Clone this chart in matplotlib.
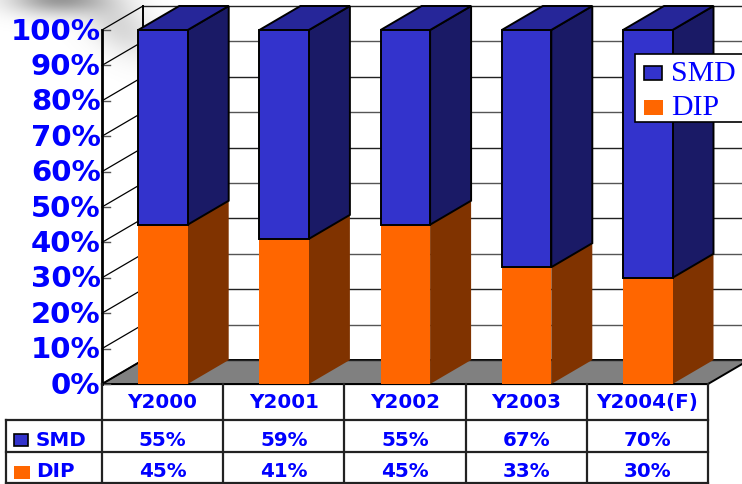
import numpy as np
import matplotlib
matplotlib.use("Agg")
import matplotlib.pyplot as plt
from matplotlib.patches import Polygon, Rectangle
from matplotlib.transforms import blended_transform_factory as blend

categories = ["Y2000", "Y2001", "Y2002", "Y2003", "Y2004(F)"]
smd = [55, 59, 55, 67, 70]
dip = [45, 41, 45, 33, 30]
yticks = list(range(0, 101, 10))
series_names = ["SMD", "DIP"]

W, H = 742, 484
BLUE, BLUE_S, BLUE_T = "#3333CC", "#1A1A66", "#262699"
ORG, ORG_S = "#FF6600", "#803300"
GRAY, TXT = "#808080", "#0000FF"
SANS, SERIF = "DejaVu Sans", "Liberation Serif"

fig = plt.figure(figsize=(W / 100, H / 100), dpi=100, facecolor="white")

# pixel-coordinate layer for the smudge, table frame and legend
px = fig.add_axes([0, 0, 1, 1], zorder=1)
px.set_xlim(0, W); px.set_ylim(H, 0); px.axis("off")

# soft grey smudge in the upper left corner
xx, yy = np.meshgrid(np.arange(W), np.arange(110))
blob = 0.8 * np.exp(-((xx - 58) / 48.0) ** 2 - ((yy + 2) / 16.0) ** 2)
streak = 0.30 * np.exp(-((xx - 105 - yy * 0.55) / 32.0) ** 2 - ((yy - 26) / 30.0) ** 2)
a = np.clip(blob + streak, 0, 1)
img = np.dstack([np.full_like(a, 0.5), np.full_like(a, 0.5), np.full_like(a, 0.5), a])
px.imshow(img, extent=(0, W, 110, 0), aspect="auto", zorder=0)
px.set_xlim(0, W); px.set_ylim(H, 0)

# chart axes: x = category slots, y = percent
ax = fig.add_axes([102 / W, (H - 384) / H, 606 / W, 354 / H], zorder=2)
ax.set_xlim(0, 5); ax.set_ylim(0, 100); ax.axis("off"); ax.patch.set_alpha(0)
DX, DY = 41 / 121.2, 24 / 3.54

def poly(pts, fc, ec="black", lw=1.4, z=2):
    p = Polygon(pts, closed=True, facecolor=fc, edgecolor=ec, linewidth=lw, zorder=z, clip_on=False, joinstyle="miter")
    ax.add_patch(p)

# floor
poly([(0, 0), (DX, DY), (5 + DX, DY), (5, 0)], GRAY, lw=1.4, z=1)

# grid: side wall + back wall
for t in yticks:
    c = "#222222" if t % 20 == 0 else "#555555"
    ax.plot([0, DX], [t, t + DY], color="black", lw=0.9, zorder=1.5, clip_on=False)
    ax.plot([DX, 5 + DX], [t + DY, t + DY], color=c, lw=1.0, zorder=1.2, clip_on=False)
    ax.plot([0, 0.065], [t, t], color="#555555", lw=1.0, zorder=1.6, clip_on=False)
    ax.text(-0.012, t - 0.45, f"{t}%", ha="right", va="center", family=SANS, fontweight="bold",
            fontsize=21, color=TXT, zorder=6, clip_on=False)
ax.plot([0, 0], [0, 100], color="black", lw=2, zorder=1.7, clip_on=False)
ax.plot([DX, DX], [DY, 100 + DY], color="black", lw=1.4, zorder=1.2, clip_on=False)

# stacked 3-D bars
BW = 49.5 / 121.2
for i, (d, s) in enumerate(zip(dip, smd)):
    x0 = i + 36.2 / 121.2
    x1 = x0 + BW
    top = d + s
    poly([(x1, 0), (x1 + DX, DY), (x1 + DX, d + DY), (x1, d)], ORG_S, ec="none", lw=0, z=3)
    poly([(x1, d), (x1 + DX, d + DY), (x1 + DX, top + DY), (x1, top)], BLUE_S, z=3.1)
    poly([(x0, top), (x0 + DX, top + DY), (x1 + DX, top + DY), (x1, top)], BLUE_T, z=3.1)
    poly([(x0, 0), (x1, 0), (x1, d), (x0, d)], ORG, ec="none", lw=0, z=3.2)
    poly([(x0, d), (x1, d), (x1, top), (x0, top)], BLUE, z=3.3)

# data table
tx = blend(ax.transData, px.transData)
ROWS = [384, 420, 452, 483]
LW = 1.6
for k, y in enumerate(ROWS):
    x_left = 102 if k == 0 else 6
    px.plot([x_left, 708], [y, y], color="#222222", lw=LW, zorder=5, clip_on=False)
px.plot([6, 6], [420, 483], color="#222222", lw=LW, zorder=5)
for j in range(len(categories) + 1):
    ax.plot([j, j], [0, -100 * (483 - 384) / 354], color="#222222", lw=LW, zorder=5, clip_on=False)
for i, c in enumerate(categories):
    for y, s in [(408, c), (445.5, f"{smd[i]}%"), (477, f"{dip[i]}%")]:
        px.text(i + 0.5, y, s, transform=tx, ha="center", va="baseline", family=SANS,
                fontweight="bold", fontsize=14.3, color=TXT, zorder=6)
for name, y, fc, ec, box in [(series_names[0], 445.5, BLUE, "black", (13.5, 434, 14, 12)),
                             (series_names[1], 477, ORG, "none", (14, 466, 16, 13))]:
    px.add_patch(Rectangle(box[:2], box[2], box[3], facecolor=fc, edgecolor=ec, linewidth=1.2, zorder=6))
    px.text(36, y, name, ha="left", va="baseline", family=SANS, fontweight="bold",
            fontsize=14.3, color=TXT, zorder=6)

# legend, in its own top layer
lg = fig.add_axes([0, 0, 1, 1], zorder=3)
lg.set_xlim(0, W); lg.set_ylim(H, 0); lg.axis("off"); lg.patch.set_alpha(0)
lg.add_patch(Rectangle((635, 54), 112, 68, facecolor="white", edgecolor="black", linewidth=1.2, clip_on=False))
lg.add_patch(Rectangle((644, 66), 18, 14, facecolor=BLUE, edgecolor="black", linewidth=1.2))
lg.add_patch(Rectangle((644, 100), 19, 15, facecolor=ORG, edgecolor="none"))
lg.text(671, 74, series_names[0], family=SERIF, fontsize=21.5, color=TXT, ha="left", va="center")
lg.text(671, 108, series_names[1], family=SERIF, fontsize=21.5, color=TXT, ha="left", va="center")

fig.savefig("out.png", dpi=100)
